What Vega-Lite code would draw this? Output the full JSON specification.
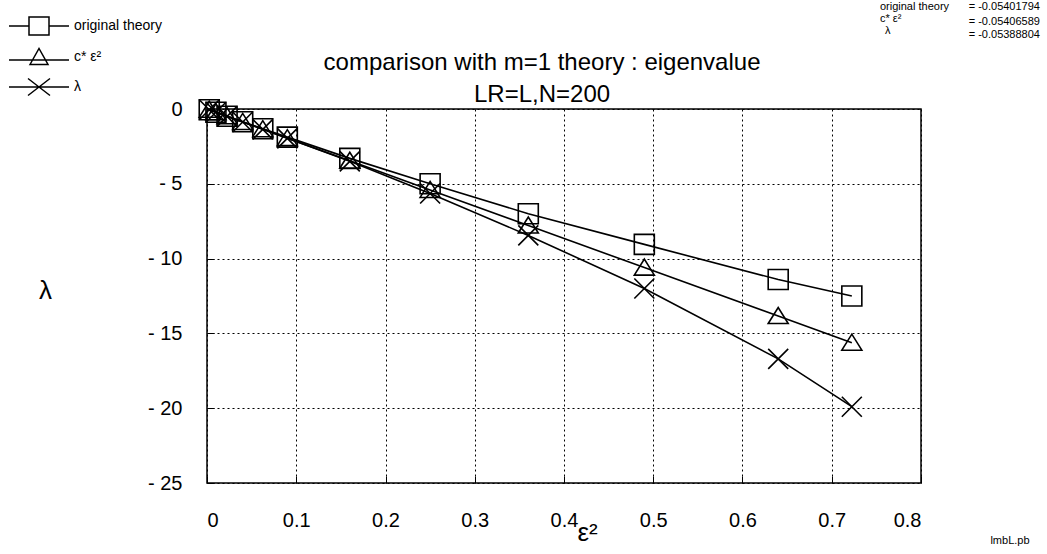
{
  "$schema": "https://vega.github.io/schema/vega-lite/v6.json",
  "width": 714,
  "height": 374,
  "autosize": {"type": "none"},
  "padding": {"left": 207, "top": 109, "right": 126, "bottom": 71},
  "background": "white",
  "config": {
    "font": "Liberation Sans",
    "view": {"stroke": "black", "strokeWidth": 1.5},
    "axis": {
      "grid": true,
      "gridColor": "black",
      "gridDash": [2, 3],
      "gridWidth": 1,
      "gridOpacity": 1,
      "domain": false,
      "tickColor": "black",
      "tickSize": -7,
      "labelColor": "black",
      "labelFontSize": 20,
      "labelFont": "Liberation Sans",
      "titleColor": "black",
      "titleFont": "Liberation Sans",
      "titleFontWeight": "normal"
    }
  },
  "data": {
    "values": [
      {"series": "original theory", "eps2": 0.0025, "lambda": -0.054},
      {"series": "original theory", "eps2": 0.01, "lambda": -0.215},
      {"series": "original theory", "eps2": 0.0225, "lambda": -0.48},
      {"series": "original theory", "eps2": 0.04, "lambda": -0.85},
      {"series": "original theory", "eps2": 0.0625, "lambda": -1.32},
      {"series": "original theory", "eps2": 0.09, "lambda": -1.88},
      {"series": "original theory", "eps2": 0.16, "lambda": -3.3},
      {"series": "original theory", "eps2": 0.25, "lambda": -5.0},
      {"series": "original theory", "eps2": 0.36, "lambda": -7.0},
      {"series": "original theory", "eps2": 0.49, "lambda": -9.05},
      {"series": "original theory", "eps2": 0.64, "lambda": -11.4},
      {"series": "original theory", "eps2": 0.7225, "lambda": -12.5},
      {"series": "c*  ε²", "eps2": 0.0025, "lambda": -0.054},
      {"series": "c*  ε²", "eps2": 0.01, "lambda": -0.216},
      {"series": "c*  ε²", "eps2": 0.0225, "lambda": -0.487},
      {"series": "c*  ε²", "eps2": 0.04, "lambda": -0.865},
      {"series": "c*  ε²", "eps2": 0.0625, "lambda": -1.35},
      {"series": "c*  ε²", "eps2": 0.09, "lambda": -1.95},
      {"series": "c*  ε²", "eps2": 0.16, "lambda": -3.46},
      {"series": "c*  ε²", "eps2": 0.25, "lambda": -5.41},
      {"series": "c*  ε²", "eps2": 0.36, "lambda": -7.79},
      {"series": "c*  ε²", "eps2": 0.49, "lambda": -10.6},
      {"series": "c*  ε²", "eps2": 0.64, "lambda": -13.84},
      {"series": "c*  ε²", "eps2": 0.7225, "lambda": -15.62},
      {"series": "λ", "eps2": 0.0025, "lambda": -0.054},
      {"series": "λ", "eps2": 0.01, "lambda": -0.216},
      {"series": "λ", "eps2": 0.0225, "lambda": -0.49},
      {"series": "λ", "eps2": 0.04, "lambda": -0.87},
      {"series": "λ", "eps2": 0.0625, "lambda": -1.36},
      {"series": "λ", "eps2": 0.09, "lambda": -1.96},
      {"series": "λ", "eps2": 0.16, "lambda": -3.5},
      {"series": "λ", "eps2": 0.25, "lambda": -5.65},
      {"series": "λ", "eps2": 0.36, "lambda": -8.45},
      {"series": "λ", "eps2": 0.49, "lambda": -12.0},
      {"series": "λ", "eps2": 0.64, "lambda": -16.7},
      {"series": "λ", "eps2": 0.7225, "lambda": -19.9}
    ]
  },
  "resolve": {"scale": {"shape": "independent"}, "legend": {"shape": "independent"}},
  "layer": [
    {
      "mark": {"type": "line", "color": "black", "strokeWidth": 1.6},
      "encoding": {
        "x": {
          "field": "eps2",
          "type": "quantitative",
          "scale": {"domain": [0, 0.8], "nice": false, "zero": false},
          "axis": {
            "values": [0, 0.1, 0.2, 0.3, 0.4, 0.5, 0.6, 0.7, 0.8],
            "labelExpr": "datum.value == 0 ? '0' : format(datum.value, '.1f')",
            "labelPadding": 34,
            "title": "ε²",
            "titleFontSize": 26,
            "titleX": 380,
            "titleY": 57,
            "titleBaseline": "alphabetic",
            "titleAlign": "center",
            "titleAnchor": null
          }
        },
        "y": {
          "field": "lambda",
          "type": "quantitative",
          "scale": {"domain": [-25, 0], "nice": false, "zero": false},
          "axis": {
            "values": [0, -5, -10, -15, -20, -25],
            "labelExpr": "datum.value < 0 ? '- ' + abs(datum.value) : '0'",
            "labelPadding": 32,
            "title": "λ",
            "titleFontSize": 26,
            "titleAngle": 0,
            "titleX": -162,
            "titleY": 189,
            "titleBaseline": "alphabetic",
            "titleAlign": "center",
            "titleAnchor": null
          }
        },
        "detail": {"field": "series", "type": "nominal"}
      }
    },
    {
      "mark": {"type": "point", "filled": false, "color": "black", "strokeWidth": 1.6, "size": 400, "opacity": 1},
      "encoding": {
        "x": {"field": "eps2", "type": "quantitative"},
        "y": {"field": "lambda", "type": "quantitative"},
        "shape": {
          "field": "series",
          "type": "nominal",
          "scale": {
            "domain": ["original theory", "c*  ε²", "λ"],
            "range": ["square", "M-1,0.75L0,-0.85L1,0.75Z", "M-1,-1L1,1M-1,1L1,-1"]
          },
          "legend": null
        }
      }
    },
    {
      "mark": {"type": "point", "filled": false, "color": "black", "strokeWidth": 1.5, "size": 400, "opacity": 0},
      "encoding": {
        "x": {"field": "eps2", "type": "quantitative"},
        "y": {"field": "lambda", "type": "quantitative"},
        "shape": {
          "field": "series",
          "type": "nominal",
          "scale": {
            "domain": ["original theory", "c*  ε²", "λ"],
            "range": [
              "M-3,0H-1M1,0H3M-1,-0.9H1V0.9H-1Z",
              "M-3,0.3H3M-0.9,0.75L0,-0.85L0.9,0.75Z",
              "M-3,0H3M-1.1,-0.85L1.1,0.85M-1.1,0.85L1.1,-0.85"
            ]
          },
          "legend": {
            "orient": "none",
            "legendX": -179,
            "legendY": -94,
            "title": null,
            "padding": 0,
            "symbolSize": 400,
            "symbolOpacity": 1,
            "symbolStrokeColor": "black",
            "symbolStrokeWidth": 1.5,
            "symbolFillColor": "transparent",
            "labelFontSize": 14,
            "labelColor": "black",
            "labelFont": "Liberation Sans",
            "labelOffset": 24,
            "rowPadding": 7
          }
        }
      }
    },
    {
      "data": {"values": [{}]},
      "mark": {"type": "text", "fontSize": 24, "lineHeight": 32, "align": "center", "baseline": "alphabetic", "color": "black", "font": "Liberation Sans"},
      "encoding": {
        "x": {"datum": 0.3754, "type": "quantitative"},
        "y": {"datum": 2.607, "type": "quantitative"},
        "text": {"value": ["comparison with m=1 theory : eigenvalue", "LR=L,N=200"]}
      }
    },
    {
      "data": {"values": [{}]},
      "mark": {"type": "text", "fontSize": 11, "align": "left", "baseline": "middle", "color": "black", "font": "Liberation Sans"},
      "encoding": {
        "x": {"datum": 0.754, "type": "quantitative"},
        "y": {"datum": 6.82, "type": "quantitative"},
        "text": {"value": "original theory"}
      }
    },
    {
      "data": {"values": [{}]},
      "mark": {"type": "text", "fontSize": 11, "align": "right", "baseline": "middle", "color": "black", "font": "Liberation Sans"},
      "encoding": {
        "x": {"datum": 0.9333, "type": "quantitative"},
        "y": {"datum": 6.82, "type": "quantitative"},
        "text": {"value": "=  -0.05401794"}
      }
    },
    {
      "data": {"values": [{}]},
      "mark": {"type": "text", "fontSize": 11, "align": "left", "baseline": "middle", "color": "black", "font": "Liberation Sans"},
      "encoding": {
        "x": {"datum": 0.754, "type": "quantitative"},
        "y": {"datum": 6.016, "type": "quantitative"},
        "text": {"value": "c*    ε²"}
      }
    },
    {
      "data": {"values": [{}]},
      "mark": {"type": "text", "fontSize": 11, "align": "right", "baseline": "middle", "color": "black", "font": "Liberation Sans"},
      "encoding": {
        "x": {"datum": 0.9333, "type": "quantitative"},
        "y": {"datum": 5.815, "type": "quantitative"},
        "text": {"value": "=  -0.05406589"}
      }
    },
    {
      "data": {"values": [{}]},
      "mark": {"type": "text", "fontSize": 11, "align": "left", "baseline": "middle", "color": "black", "font": "Liberation Sans"},
      "encoding": {
        "x": {"datum": 0.7597, "type": "quantitative"},
        "y": {"datum": 5.214, "type": "quantitative"},
        "text": {"value": "λ"}
      }
    },
    {
      "data": {"values": [{}]},
      "mark": {"type": "text", "fontSize": 11, "align": "right", "baseline": "middle", "color": "black", "font": "Liberation Sans"},
      "encoding": {
        "x": {"datum": 0.9333, "type": "quantitative"},
        "y": {"datum": 4.947, "type": "quantitative"},
        "text": {"value": "=  -0.05388804"}
      }
    },
    {
      "data": {"values": [{}]},
      "mark": {"type": "text", "fontSize": 11, "align": "center", "baseline": "middle", "color": "black", "font": "Liberation Sans"},
      "encoding": {
        "x": {"datum": 0.8997, "type": "quantitative"},
        "y": {"datum": -28.88, "type": "quantitative"},
        "text": {"value": "lmbL.pb"}
      }
    }
  ]
}
